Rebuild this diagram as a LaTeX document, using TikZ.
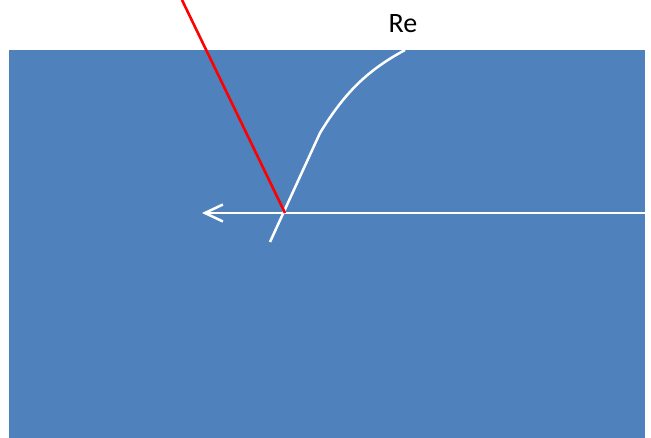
\documentclass[tikz,border=0pt]{standalone}
\usepackage{fontspec}
\setmainfont{Carlito}
\usepackage{tikz}
\usetikzlibrary{arrows.meta}
\definecolor{slab}{HTML}{4F81BD}
\definecolor{ray}{HTML}{FF0000}

\begin{document}
\begin{tikzpicture}[x=1pt, y=-1pt, every node/.style={font=\fontsize{28}{32}\selectfont, inner sep=0pt}]
\useasboundingbox (0, 0) rectangle (651, 438);
\fill[slab] (9, 50) rectangle (645, 438);
% points on the slab
\coordinate (hit) at (285, 213);
\coordinate (edge) at (645, 213);
\coordinate (tip) at (202, 213);
\coordinate (low) at (270, 242);
\coordinate (top) at (405, 50);
\coordinate (src) at (182, 0);
\node (re) at (403, 24) {Re};
% axis and curve
\draw[white, line width=2.5pt, -{Straight Barb[length=18pt, width=17pt, line width=2.5pt]}] (edge) -- (tip);
\draw[white, line width=2.5pt] (low) -- (320, 133) .. controls (345, 92) and (368, 70) .. (top);
\draw[ray, line width=2.6pt] (src) -- (hit);
\end{tikzpicture}
\end{document}
